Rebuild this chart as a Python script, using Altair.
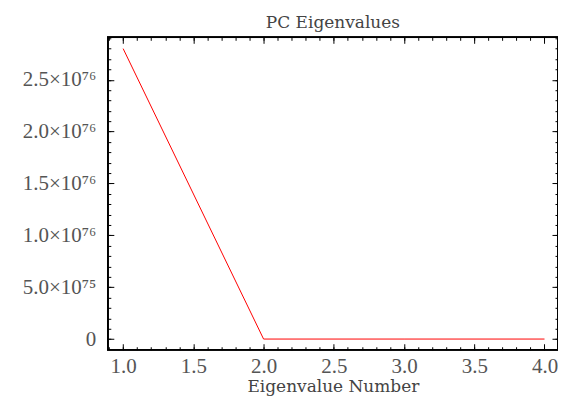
import altair as alt
import pandas as pd

# data
eig_number = [1, 2, 3, 4]
eig_value = [2.8e76, 0.0, 0.0, 0.0]

x_major = [1.0, 1.5, 2.0, 2.5, 3.0, 3.5, 4.0]
x_minor = [round(0.9 + 0.1 * i, 1) for i in range(33)]
y_major = [0.0, 5e75, 1e76, 1.5e76, 2e76, 2.5e76]
y_major_labels = ["0", "5.0×10⁷⁵", "1.0×10⁷⁶", "1.5×10⁷⁶", "2.0×10⁷⁶", "2.5×10⁷⁶"]
y_minor = [i * 1e75 for i in range(0, 30)]

x_domain = [0.891, 4.096]
y_domain = [-1.03e75, 2.909e76]

W, H = 451, 313

df = pd.DataFrame({"n": eig_number, "v": eig_value})

# label expression for y built from lists
expr = "'" + y_major_labels[-1] + "'"
for val, lab in reversed(list(zip(y_major[:-1], y_major_labels[:-1]))):
    expr = f"datum.value < {val + 2.5e75} ? '{lab}' : " + expr

LFONT = "Liberation Serif"
TFONT = "DejaVu Serif"
LABEL_COLOR = "#555555"

common_axis = dict(domain=False, grid=False, tickColor="black", tickWidth=1)

def make_layer(xaxis, yaxis, visible):
    base = alt.Chart(df).mark_line(
        color="red", strokeWidth=1, opacity=1 if visible else 0, clip=True
    )
    return base.encode(
        x=alt.X("n:Q", scale=alt.Scale(domain=x_domain, nice=False, zero=False), axis=xaxis),
        y=alt.Y("v:Q", scale=alt.Scale(domain=y_domain, nice=False, zero=False), axis=yaxis),
    )

main = make_layer(
    alt.Axis(orient="bottom", values=x_major, offset=-6, tickSize=6,
             labelExpr="format(datum.value, '.1f')", labelPadding=6,
             labelFont=LFONT, labelFontSize=21, labelColor=LABEL_COLOR,
             title="Eigenvalue Number", titleFont=TFONT, titleFontSize=17,
             titleFontWeight="normal", titleColor="#444444", titlePadding=2,
             labelOverlap=False, **common_axis),
    alt.Axis(orient="left", values=y_major, offset=-6, tickSize=6,
             labelExpr=expr, labelPadding=12,
             labelFont=LFONT, labelFontSize=21, labelColor=LABEL_COLOR,
             title=None, labelOverlap=False, **common_axis),
    True,
)

minor_bl = make_layer(
    alt.Axis(orient="bottom", values=x_minor, offset=-3, tickSize=3,
             labels=False, title=None, **common_axis),
    alt.Axis(orient="left", values=y_minor, offset=-3, tickSize=3,
             labels=False, title=None, **common_axis),
    False,
)

major_tr = make_layer(
    alt.Axis(orient="top", values=x_major, offset=-6, tickSize=6,
             labels=False, title=None, **common_axis),
    alt.Axis(orient="right", values=y_major, offset=-6, tickSize=6,
             labels=False, title=None, **common_axis),
    False,
)

minor_tr = make_layer(
    alt.Axis(orient="top", values=x_minor, offset=-3, tickSize=3,
             labels=False, title=None, **common_axis),
    alt.Axis(orient="right", values=y_minor, offset=-3, tickSize=3,
             labels=False, title=None, **common_axis),
    False,
)

frame = alt.Chart(df).mark_rect(fill=None, stroke="black", strokeWidth=1.5).encode(
    x=alt.value(0), x2=alt.value(W), y=alt.value(0), y2=alt.value(H)
)

chart = (
    alt.layer(main, minor_bl, major_tr, minor_tr, frame)
    .resolve_scale(x="independent", y="independent")
    .resolve_axis(x="independent", y="independent")
    .properties(
        width=W,
        height=H,
        title=alt.TitleParams("PC Eigenvalues", font=TFONT, fontSize=17,
                              fontWeight="normal", color="#444444",
                              anchor="middle", frame="group", offset=5),
        autosize=alt.AutoSizeParams(type="none"),
        padding={"left": 100, "top": 29, "right": 0, "bottom": 50},
    )
    .configure_view(stroke=None)
    .configure(background="white")
)

chart.save("out.html", embed_options={"renderer": "svg", "actions": False})
